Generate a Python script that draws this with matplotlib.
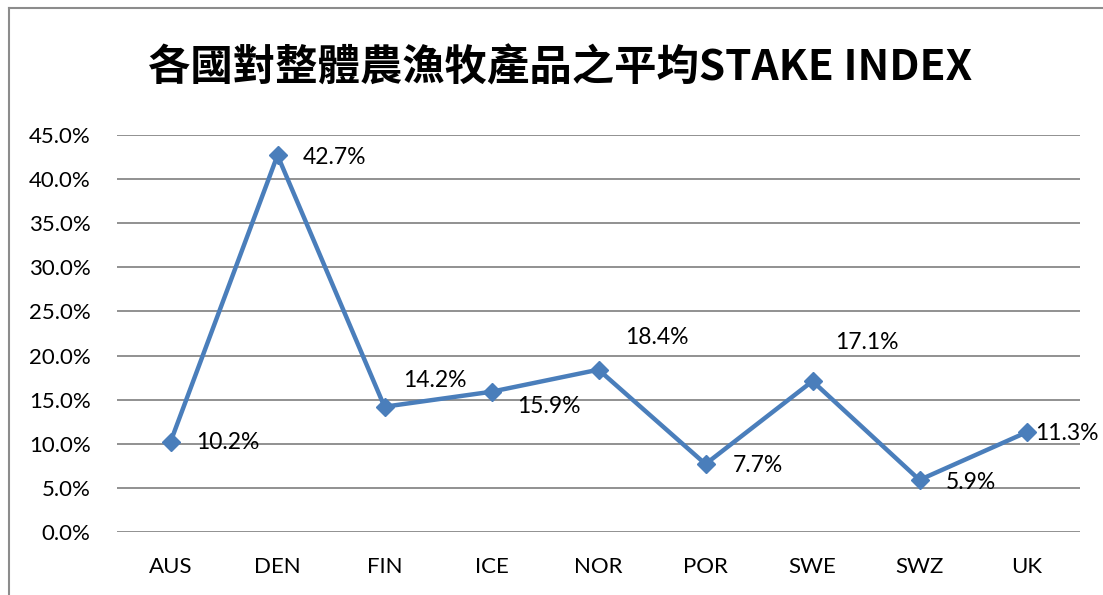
import matplotlib
matplotlib.use("Agg")
import matplotlib.pyplot as plt
from matplotlib.lines import Line2D
from matplotlib.ticker import FuncFormatter

title = "各國對整體農漁牧產品之平均STAKE INDEX"
categories = ["AUS", "DEN", "FIN", "ICE", "NOR", "POR", "SWE", "SWZ", "UK"]
values = [10.2, 42.7, 14.2, 15.9, 18.4, 7.7, 17.1, 5.9, 11.3]
# label offsets in pixels (dx, dy)
label_offsets = [(26, 0), (25, -2), (19, 26), (26, -15), (27, 32), (27, -1), (23, 39), (26, -3), (9, -1)]

plt.rcParams['font.family'] = ['Lato', 'DejaVu Sans']

W, H = 1103, 595
fig = plt.figure(figsize=(W / 100, H / 100), dpi=100)
ax = fig.add_axes([117 / W, 1 - 532 / H, (1080 - 117) / W, (532 - 135) / H])

x = list(range(len(categories)))
ax.plot(x, values, color="#4A7EBB", lw=3.2, marker="D", markersize=9.5,
        markerfacecolor="#4A7EBB", markeredgecolor="#4A7EBB", zorder=3)

for xi, v, (dx, dy) in zip(x, values, label_offsets):
    ax.annotate(f"{v:.1f}%", (xi, v), xytext=(dx, dy), textcoords="offset pixels",
                ha="left", va="center", fontsize=16.5, color="black", zorder=4)

ax.set_xlim(-0.5, len(categories) - 0.5)
ax.set_ylim(0, 45)
ax.set_yticks([0, 5, 10, 15, 20, 25, 30, 35, 40, 45])
ax.yaxis.set_major_formatter(FuncFormatter(lambda v, p: f"{v:.1f}%"))
ax.set_xticks(x)
ax.set_xticklabels(categories)
ax.grid(axis="y", color="#888888", lw=1.3)
ax.set_axisbelow(True)
for s in ax.spines.values():
    s.set_visible(False)
ax.tick_params(axis="both", length=0, labelsize=16, colors="black")
ax.tick_params(axis="x", pad=18)
ax.tick_params(axis="y", pad=19)

fig.text(560 / W, 1 - 68 / H, title, ha="center", va="center", fontsize=30.5,
         fontweight="bold", family=["Noto Sans CJK TC", "DejaVu Sans"])

# chart frame
fig.add_artist(Line2D([9 / W, 9 / W], [0, 1 - 8 / H], color="#8C8C8C", lw=1.5))
fig.add_artist(Line2D([9 / W, 1], [1 - 8 / H, 1 - 8 / H], color="#8C8C8C", lw=1.5))

fig.savefig("out.png", dpi=100)
